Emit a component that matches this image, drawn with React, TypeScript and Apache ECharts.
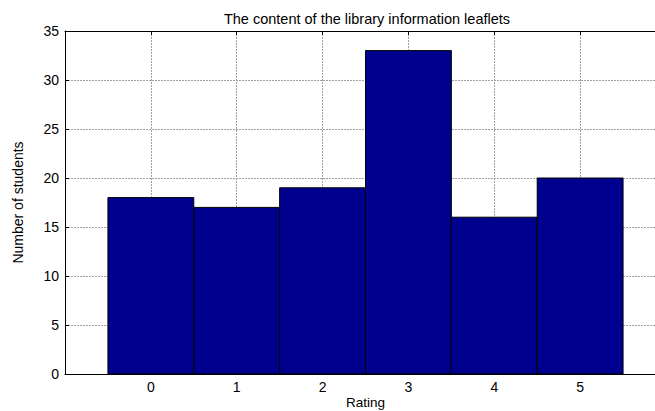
import React, { useEffect, useRef } from "react";
import * as echarts from "echarts";

const ratings = [0, 1, 2, 3, 4, 5];
const students = [18, 17, 19, 33, 16, 20];
const titleText = "The content of the library information leaflets";
const xName = "Rating";
const yName = "Number of students";

const FONT = "'Liberation Sans', Arial, Helvetica, sans-serif";

export default function App() {
  const ref = useRef<HTMLDivElement>(null);
  useEffect(() => {
    if (!ref.current) return;
    const chart = echarts.init(ref.current, null, { renderer: "svg" });
    const data = ratings.map((r, i) => [r, students[i]]);
    chart.setOption({
      animation: false,
      backgroundColor: "#ffffff",
      textStyle: { fontFamily: FONT },
      title: {
        text: titleText,
        left: 362,
        textAlign: "center",
        top: 6,
        textStyle: { fontSize: 14.5, fontWeight: "normal", color: "#000", fontFamily: FONT },
      },
      grid: { left: 65, top: 31, right: -11, bottom: 37, outerBoundsMode: "none" },
      xAxis: [
        {
          type: "value",
          min: -1,
          max: 6,
          interval: 1,
          name: xName,
          nameLocation: "middle",
          nameGap: 21,
          nameMoveOverlap: false,
          nameTextStyle: { fontSize: 13.5, color: "#000", fontFamily: FONT, lineHeight: 14 },
          axisLine: { show: true, onZero: false, lineStyle: { color: "#000", width: 1 } },
          axisTick: { show: true, inside: true, length: 4, lineStyle: { color: "#000" } },
          axisLabel: {
            fontSize: 14,
            color: "#000",
            margin: 6,
            fontFamily: FONT,
            formatter: (v: number) => (v < 0 || v > 5 ? "" : String(v)),
          },
          splitLine: { show: true, lineStyle: { color: "#a0a0a0", type: [2, 1], width: 1 } },
        },
        {
          type: "value",
          position: "top",
          min: -1,
          max: 6,
          interval: 1,
          axisLine: { show: true, onZero: false, lineStyle: { color: "#000", width: 1 } },
          axisTick: { show: true, inside: true, length: 4, lineStyle: { color: "#000" } },
          axisLabel: { show: false },
          splitLine: { show: false },
        },
      ],
      yAxis: {
        type: "value",
        min: 0,
        max: 35,
        interval: 5,
        name: yName,
        nameLocation: "middle",
        nameGap: 40,
        nameMoveOverlap: false,
        nameTextStyle: { fontSize: 14, color: "#000", fontFamily: FONT },
        axisLine: { show: true, onZero: false, lineStyle: { color: "#000", width: 1 } },
        axisTick: { show: true, inside: true, length: 4, lineStyle: { color: "#000" } },
        axisLabel: { fontSize: 14, color: "#000", margin: 6, fontFamily: FONT },
        splitLine: { show: true, lineStyle: { color: "#a0a0a0", type: [2, 1], width: 1 } },
      },
      series: [
        {
          type: "custom",
          xAxisIndex: 0,
          yAxisIndex: 0,
          data,
          encode: { x: 0, y: 1 },
          renderItem: (params: any, api: any) => {
            const x = api.value(0);
            const v = api.value(1);
            const p0 = api.coord([x - 0.5, v]);
            const p1 = api.coord([x + 0.5, 0]);
            return {
              type: "rect",
              shape: { x: p0[0], y: p0[1], width: p1[0] - p0[0], height: p1[1] - p0[1] },
              style: { fill: "#00008F", stroke: "#000", lineWidth: 1 },
            };
          },
        },
      ],
    });
    return () => chart.dispose();
  }, []);
  return (
    <div
      ref={ref}
      style={{ position: "fixed", left: 0, top: 0, width: 655, height: 411, background: "#fff" }}
    />
  );
}
